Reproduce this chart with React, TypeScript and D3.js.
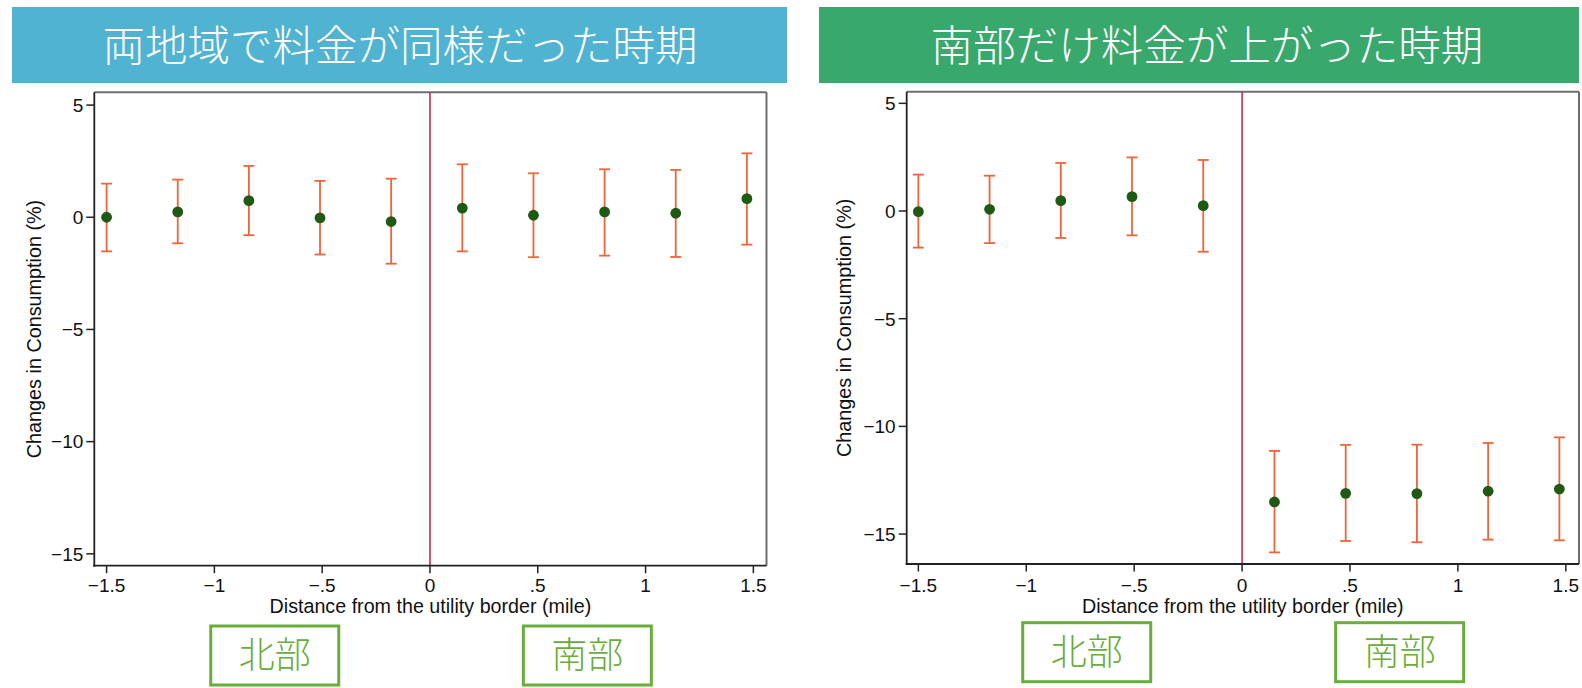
import React from "react";
import * as d3 from "d3";

const xBins = [-1.5, -1.17, -0.84, -0.51, -0.18, 0.15, 0.48, 0.81, 1.14, 1.47];

const leftEst = [0.0, 0.24, 0.74, -0.03, -0.19, 0.41, 0.09, 0.24, 0.18, 0.83];
const leftLo = [-1.52, -1.16, -0.8, -1.66, -2.07, -1.52, -1.78, -1.71, -1.77, -1.22];
const leftHi = [1.5, 1.68, 2.29, 1.62, 1.72, 2.36, 1.96, 2.14, 2.11, 2.85];

const rightEst = [-0.03, 0.08, 0.48, 0.67, 0.25, -13.51, -13.11, -13.12, -13.01, -12.91];
const rightLo = [-1.7, -1.49, -1.25, -1.13, -1.89, -15.85, -15.32, -15.38, -15.26, -15.29];
const rightHi = [1.69, 1.64, 2.23, 2.49, 2.37, -11.14, -10.86, -10.85, -10.77, -10.51];

const xTicks = [-1.5, -1, -0.5, 0, 0.5, 1, 1.5];
const xTickLabels = ["\u22121.5", "\u22121", "\u2212.5", "0", ".5", "1", "1.5"];
const yTicks = [5, 0, -5, -10, -15];
const yTickLabels = ["5", "0", "\u22125", "\u221210", "\u221215"];

const titles = ["両地域で料金が同様だった時期", "南部だけ料金が上がった時期"];
const regionLabels = ["北部", "南部"];
const regionCenters = [-0.72, 0.73];

const xTitle = "Distance from the utility border (mile)";
const yTitle = "Changes in Consumption (%)";

type Panel = {
  title: string;
  titleX: number;
  bannerColor: string;
  banner: [number, number];
  plot: { x0: number; x1: number; y0: number; y1: number };
  xDom: [number, number];
  yDom: [number, number];
  est: number[];
  lo: number[];
  hi: number[];
  yTitleX: number;
  boxY: number;
};

const panels: Panel[] = [
  {
    title: titles[0],
    titleX: 400,
    bannerColor: "#4fb3d1",
    banner: [12, 787],
    plot: { x0: 94.3, x1: 766.5, y0: 92.3, y1: 565.7 },
    xDom: [-1.557, 1.561],
    yDom: [-15.53, 5.57],
    est: leftEst,
    lo: leftLo,
    hi: leftHi,
    yTitleX: 34,
    boxY: 624.5,
  },
  {
    title: titles[1],
    titleX: 1207,
    bannerColor: "#38a86d",
    banner: [819, 1579],
    plot: { x0: 906.7, x1: 1579, y0: 91.7, y1: 564 },
    xDom: [-1.554, 1.561],
    yDom: [-16.39, 5.54],
    est: rightEst,
    lo: rightLo,
    hi: rightHi,
    yTitleX: 844,
    boxY: 621.2,
  },
];

const SANS = "'Liberation Sans', Arial, Helvetica, sans-serif";
const CJK = "'Noto Sans CJK JP', 'Noto Sans CJK SC', sans-serif";
const ERR = "#f0643a";
const DOT = "#1f5a14";
const VLINE = "#c92c4e";
const BOX = "#6aad3c";

function PanelView({ p }: { p: Panel }) {
  const x = d3.scaleLinear().domain(p.xDom).range([p.plot.x0, p.plot.x1]);
  const y = d3.scaleLinear().domain(p.yDom).range([p.plot.y1, p.plot.y0]);
  const { x0, x1, y0, y1 } = p.plot;
  const cap = 5.5;
  return (
    <g>
      <rect x={p.banner[0]} y={7} width={p.banner[1] - p.banner[0]} height={76} fill={p.bannerColor} />
      <text
        x={p.titleX}
        y={46}
        dy="0.36em"
        textAnchor="middle"
        fill="#fff"
        fontFamily={CJK}
        fontWeight={300}
        fontSize={42.5}
      >
        {p.title}
      </text>

      {/* frame */}
      <line x1={x0} y1={y0} x2={x1} y2={y0} stroke="#6e6e6e" strokeWidth={2} />
      <line x1={x1} y1={y0} x2={x1} y2={y1} stroke="#6e6e6e" strokeWidth={2} />

      {/* zero vertical line */}
      <line x1={x(0)} y1={y0} x2={x(0)} y2={y1} stroke={VLINE} strokeWidth={1.6} />

      <line x1={x0} y1={y0} x2={x0} y2={y1 + 1} stroke="#222" strokeWidth={1.8} />
      <line x1={x0 - 1} y1={y1} x2={x1} y2={y1} stroke="#222" strokeWidth={1.8} />

      {yTicks.map((t, i) => (
        <g key={"y" + i}>
          <line x1={x0 - 8} x2={x0} y1={y(t)} y2={y(t)} stroke="#222" strokeWidth={1.5} />
          <text
            x={x0 - 11}
            y={y(t)}
            dy="0.36em"
            textAnchor="end"
            fontFamily={SANS}
            fontSize={19}
            fill="#111"
          >
            {yTickLabels[i]}
          </text>
        </g>
      ))}
      {xTicks.map((t, i) => (
        <g key={"x" + i}>
          <line x1={x(t)} x2={x(t)} y1={y1} y2={y1 + 7.5} stroke="#222" strokeWidth={1.5} />
          <text
            x={x(t)}
            y={591.5}
            textAnchor="middle"
            fontFamily={SANS}
            fontSize={19}
            fill="#111"
          >
            {xTickLabels[i]}
          </text>
        </g>
      ))}
      <text
        x={(x0 + x1) / 2}
        y={613}
        textAnchor="middle"
        fontFamily={SANS}
        fontSize={19.7}
        fill="#111"
      >
        {xTitle}
      </text>
      <text
        transform={`translate(${p.yTitleX},${(y0 + y1) / 2}) rotate(-90)`}
        dy="0.36em"
        textAnchor="middle"
        fontFamily={SANS}
        fontSize={19.8}
        fill="#111"
      >
        {yTitle}
      </text>

      {xBins.map((b, i) => {
        const px = x(b);
        return (
          <g key={"p" + i}>
            <line x1={px} x2={px} y1={y(p.lo[i])} y2={y(p.hi[i])} stroke={ERR} strokeWidth={1.8} />
            <line x1={px - cap} x2={px + cap} y1={y(p.lo[i])} y2={y(p.lo[i])} stroke={ERR} strokeWidth={1.8} />
            <line x1={px - cap} x2={px + cap} y1={y(p.hi[i])} y2={y(p.hi[i])} stroke={ERR} strokeWidth={1.8} />
            <circle cx={px} cy={y(p.est[i])} r={5.4} fill={DOT} />
          </g>
        );
      })}

      {regionLabels.map((lab, i) => {
        const bx = x(regionCenters[i]);
        return (
          <g key={"r" + i}>
            <rect
              x={bx - 64}
              y={p.boxY + 1.5}
              width={128}
              height={59}
              fill="none"
              stroke={BOX}
              strokeWidth={3}
            />
            <text
              x={bx}
              y={p.boxY + 31}
              dy="0.36em"
              textAnchor="middle"
              fill={BOX}
              fontFamily={CJK}
              fontWeight={300}
              fontSize={36}
            >
              {lab}
            </text>
          </g>
        );
      })}
    </g>
  );
}

export default function App() {
  return (
    <svg
      width={1582}
      height={688}
      style={{ position: "absolute", left: 0, top: 0, background: "#fff" }}
    >
      <rect x={0} y={0} width={1582} height={688} fill="#fff" />
      {panels.map((p, i) => (
        <PanelView key={i} p={p} />
      ))}
    </svg>
  );
}
